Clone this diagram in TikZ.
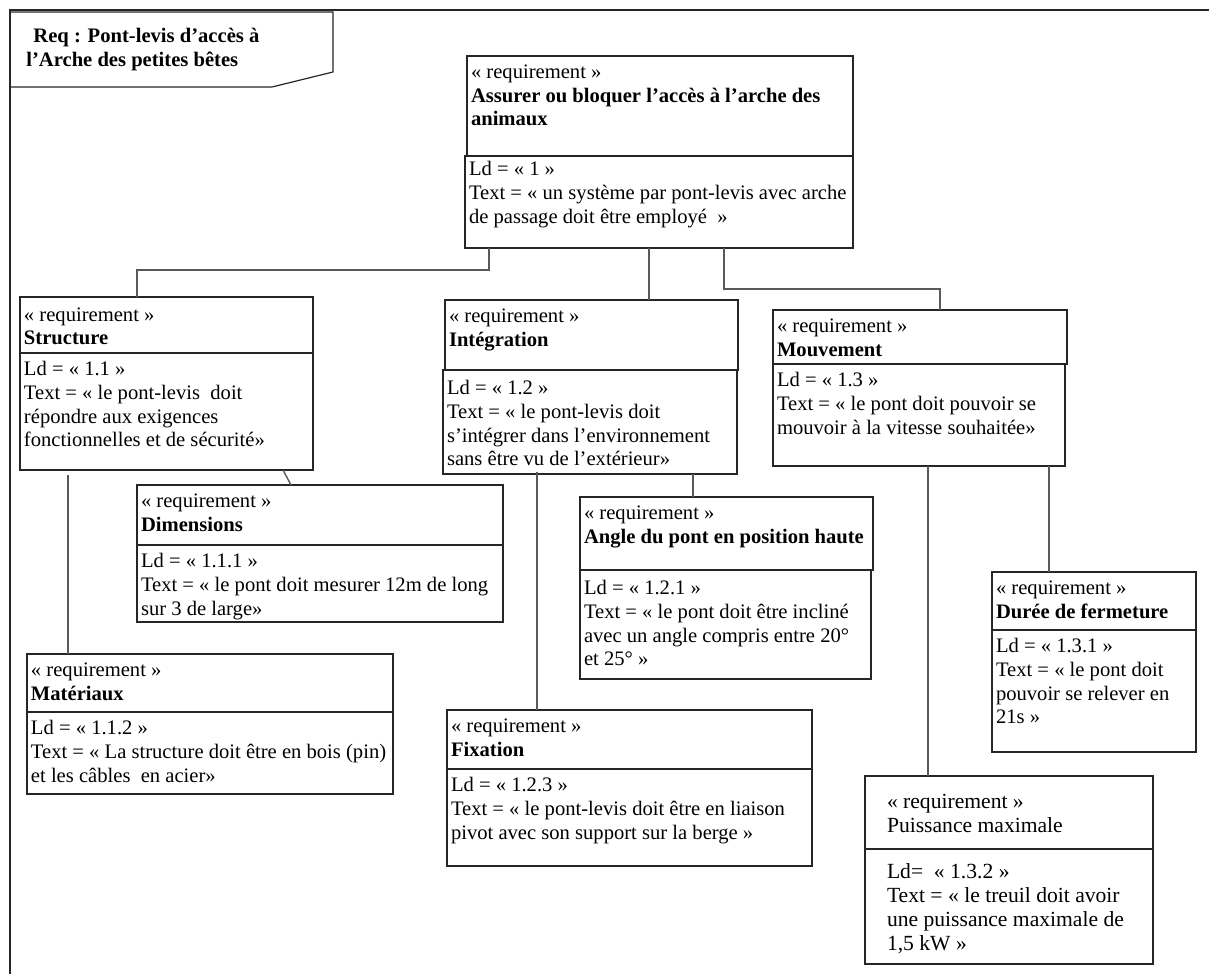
\documentclass[tikz,border=0pt]{standalone}
\usepackage{fontspec}
\setmainfont{Liberation Serif}

\newcommand{\reqfont}{\fontsize{10.3}{11.85}\selectfont}
\newcommand{\reqcell}[4][11.3pt]{\parbox[t][#3][t]{#2}{\raggedright\rule{0pt}{#1}#4}}

\tikzset{
  reqpart/.style={draw=black!85, line width=0.8pt, anchor=north west, inner xsep=2pt, inner ysep=0pt, outer sep=0pt, font=\reqfont},
  plainpart/.style={reqpart, line width=1.1pt, inner xsep=11pt, font=\fontsize{10.8}{12.1}\selectfont},
  link/.style={draw=black!65, line width=0.7pt},
  frame/.style={draw=black!85, line width=1pt},
}

\begin{document}
\begin{tikzpicture}[x=0.5pt,y=-0.5pt]
\useasboundingbox (0,0) rectangle (1209,974);
% frame and its tab
\draw[frame] (1209,10) -- (10,10) -- (10,974);
\draw[frame, line width=0.6pt] (10,12) -- (333,12) -- (333,72) -- (272,87) -- (10,87);
\node[anchor=north west, inner sep=0pt, font=\reqfont\bfseries] (title) at (26,20) {\reqcell{140pt}{30pt}{\hspace*{3.5pt}Req : Pont-levis d’accès à\\l’Arche des petites bêtes}};

% requirements
\node[reqpart] (rootH) at (467,56) {\reqcell{189pt}{50pt}{« requirement »\\\textbf{Assurer ou bloquer l’accès à l’arche des}\\\textbf{animaux}}};
\node[reqpart] (rootB) at (465,156) {\reqcell[10pt]{190pt}{46pt}{Ld = « 1 »\\Text = « un système par pont-levis avec arche\\de passage doit être employé~~»}};

\node[reqpart] (strH) at (20,297) {\reqcell[12pt]{142.5pt}{28pt}{« requirement »\\\textbf{Structure}}};
\node[reqpart] (strB) at (20,353) {\reqcell{142.5pt}{58.5pt}{Ld = « 1.1 »\\Text = « le pont-levis~~doit\\répondre aux exigences\\fonctionnelles et de sécurité»}};

\node[reqpart] (dimH) at (137,485) {\reqcell{179pt}{30pt}{« requirement »\\\textbf{Dimensions}}};
\node[reqpart] (dimB) at (137,545) {\reqcell{179pt}{38.5pt}{Ld = « 1.1.1 »\\Text = « le pont doit mesurer 12m de long\\sur 3 de large»}};

\node[reqpart] (matH) at (27,654) {\reqcell{179pt}{29pt}{« requirement »\\\textbf{Matériaux}}};
\node[reqpart] (matB) at (27,712) {\reqcell{179pt}{41pt}{Ld = « 1.1.2 »\\Text = « La structure doit être en bois (pin)\\et les câbles~~en acier»}};

\node[reqpart] (intH) at (445,300) {\reqcell{142.5pt}{35pt}{« requirement »\\\textbf{Intégration}}};
\node[reqpart] (intB) at (443,370) {\reqcell[12.3pt]{143pt}{52pt}{Ld = « 1.2 »\\Text = « le pont-levis doit\\s’intégrer dans l’environnement\\sans être vu de l’extérieur»}};

\node[reqpart] (angH) at (580,497) {\reqcell{142.5pt}{36.5pt}{« requirement »\\\textbf{Angle du pont en position haute}}};
\node[reqpart] (angB) at (580,570) {\reqcell[12.3pt]{141.5pt}{54.5pt}{Ld = « 1.2.1 »\\Text = « le pont doit être incliné\\avec un angle compris entre 20°\\et 25° »}};

\node[reqpart] (fixH) at (447,710) {\reqcell{178.5pt}{29.5pt}{« requirement »\\\textbf{Fixation}}};
\node[reqpart] (fixB) at (447,769) {\reqcell{178.5pt}{48.5pt}{Ld = « 1.2.3 »\\Text = « le pont-levis doit être en liaison\\pivot avec son support sur la berge »}};

\node[reqpart] (mvH) at (773,310) {\reqcell{143pt}{27pt}{« requirement »\\\textbf{Mouvement}}};
\node[reqpart] (mvB) at (773,364) {\reqcell{142pt}{51pt}{Ld = « 1.3 »\\Text = « le pont doit pouvoir se\\mouvoir à la vitesse souhaitée»}};

\node[reqpart] (durH) at (992,572) {\reqcell{98pt}{29pt}{« requirement »\\\textbf{Durée de fermeture}}};
\node[reqpart] (durB) at (992,630) {\reqcell{98pt}{61pt}{Ld = « 1.3.1 »\\Text = « le pont doit\\pouvoir se relever en\\21s »}};

\node[plainpart] (pwH) at (865,776) {\reqcell[16pt]{122pt}{36.5pt}{« requirement »\\Puissance maximale}};
\node[plainpart] (pwB) at (865,849) {\reqcell[14.5pt]{122pt}{57.5pt}{Ld=~~« 1.3.2 »\\Text = « le treuil doit avoir\\une puissance maximale de\\1,5 kW »}};

% containment links
\draw[link] ([xshift=12pt]rootB.south west) -- ++(0pt,-11pt) -| ([xshift=58.5pt]strH.north west);
\draw[link] ([xshift=92pt]rootB.south west) -- ([xshift=92pt]rootB.south west |- intH.north);
\draw[link] ([xshift=129.5pt]rootB.south west) -- ++(0pt,-20.5pt) -| ([xshift=83.5pt]mvH.north west);
\draw[link] ([xshift=131.5pt]strB.south west) -- ([xshift=77pt]dimH.north west);
\draw[link] ([xshift=24pt,yshift=-2.5pt]strB.south west) -- ([xshift=24pt]strB.south west |- matH.north);
\draw[link] ([xshift=125pt]intB.south west) -- ([xshift=125pt]intB.south west |- angH.north);
\draw[link] ([xshift=47pt,yshift=1pt]intB.south west) -- ([xshift=47pt]intB.south west |- fixH.north);
\draw[link] ([xshift=77.5pt]mvB.south west) -- ([xshift=77.5pt]mvB.south west |- pwH.north);
\draw[link] ([xshift=138pt]mvB.south west) -- ([xshift=138pt]mvB.south west |- durH.north);
\end{tikzpicture}
\end{document}
